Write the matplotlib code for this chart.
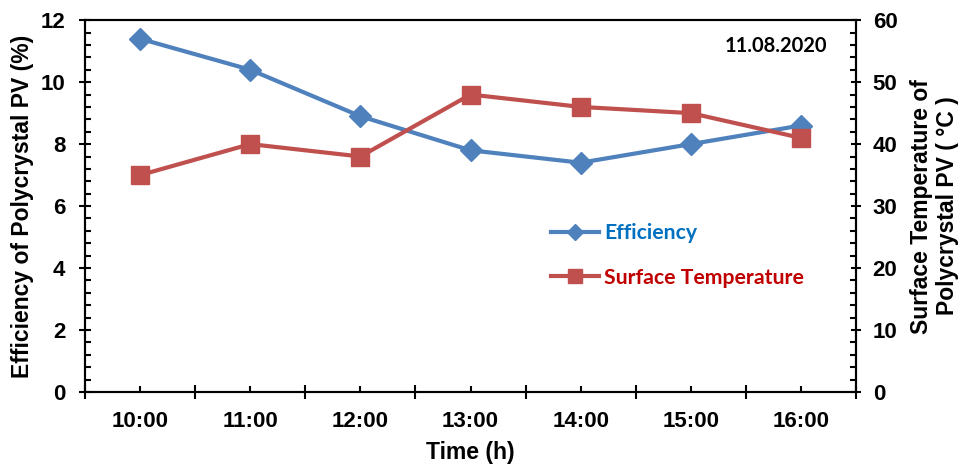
import matplotlib.pyplot as plt
import numpy as np

times = ["10:00", "11:00", "12:00", "13:00", "14:00", "15:00", "16:00"]
efficiency = [11.4, 10.4, 8.9, 7.8, 7.4, 8.0, 8.6]
surface_temp = [35, 40, 38, 48, 46, 45, 41]

blue = '#4f81bd'
red = '#c0504d'
arial_b = dict(family='Liberation Sans', weight='bold')

fig = plt.figure(figsize=(9.62, 4.69), dpi=100)
ax = fig.add_axes([0.0884, 0.1642, 0.8014, 0.7928])
ax2 = ax.twinx()

x = np.arange(len(times))
ax.plot(x, efficiency, color=blue, lw=3, marker='D', ms=11, label='Efficiency')
ax2.plot(x, surface_temp, color=red, lw=3, marker='s', ms=13, label='Surface Temperature')

ax.set_xlim(-0.5, len(times) - 0.5)
ax.set_ylim(0, 12)
ax2.set_ylim(0, 60)
ax.set_yticks(np.arange(0, 13, 2))
ax.set_yticks(np.arange(0, 12.01, 0.4), minor=True)
ax2.set_yticks(np.arange(0, 61, 10))
ax2.set_yticks(np.arange(0, 60.1, 2), minor=True)

# category axis: labels at the centres, long marks on the boundaries
ax.set_xticks(np.arange(-0.5, len(times), 1))
ax.set_xticklabels([])
ax.set_xticks(x, minor=True)
ax.set_xticklabels(times, minor=True)

for a in (ax, ax2):
    for lab in a.get_yticklabels():
        lab.set_fontproperties(dict(arial_b, size=16))
    for s in a.spines.values():
        s.set_linewidth(1.5)
for lab in ax.get_xticklabels(minor=True):
    lab.set_fontproperties(dict(arial_b, size=16))

ax.tick_params(axis='x', which='major', length=10, width=1.5, direction='inout')
ax.tick_params(axis='x', which='minor', length=4, width=1.5, direction='in', pad=14)
ax.tick_params(axis='y', which='major', length=8.6, width=1.5, direction='inout', pad=10)
ax.tick_params(axis='y', which='minor', length=4.3, width=1.5, direction='in')
ax2.tick_params(axis='y', which='major', length=7, width=1.5, direction='inout', pad=8.5)
ax2.tick_params(axis='y', which='minor', length=4.3, width=1.5, direction='in')

ax.set_xlabel('Time (h)', fontdict=dict(arial_b, size=16.5))
ax.xaxis.set_label_coords(0.5, -0.164)
ax.xaxis.label.set_va('center')
ax.set_ylabel('Efficiency of Polycrystal PV (%)', fontdict=dict(arial_b, size=16.5))
ax.yaxis.set_label_coords(-0.0817, 0.5)
ax.yaxis.label.set_va('center')
ax2.set_ylabel('Surface Temperature of\nPolycrystal PV ( °C )', fontdict=dict(arial_b, size=16.5))
ax2.yaxis.set_label_coords(1.102, 0.5)
ax2.yaxis.label.set_va('center')

ax.text(0.963, 0.93, '11.08.2020', transform=ax.transAxes, ha='right', va='center',
        fontfamily='Lato', fontweight='bold', fontsize=14.5)

h1, l1 = ax.get_legend_handles_labels()
h2, l2 = ax2.get_legend_handles_labels()
leg = ax.legend(h1 + h2, l1 + l2, loc='center left', bbox_to_anchor=(0.59, 0.367),
                frameon=False, borderpad=0, handlelength=2.26, handletextpad=0.25,
                labelspacing=1.15, markerscale=0.75,
                labelcolor=['#0070c0', '#c00000'],
                prop=dict(family='Lato', weight='bold', size=15.3))

fig.savefig('out.png', dpi=100)
